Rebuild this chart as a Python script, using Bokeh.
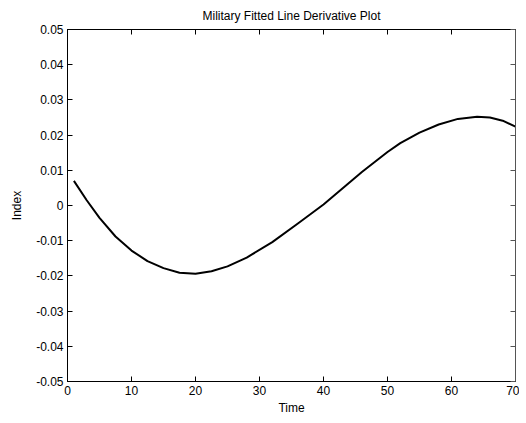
from bokeh.plotting import figure
from bokeh.models import Range1d, LinearAxis, FixedTicker, CustomJSTickFormatter
from bokeh.embed import file_html
from bokeh.resources import INLINE

# Data
time = [1, 3, 5, 7.5, 10, 12.5, 15, 17.5, 20, 22.5, 25, 28, 32, 36, 40, 43, 46,
        50, 52, 55, 58, 61, 64, 66, 68, 70]
index = [0.0070, 0.0015, -0.0035, -0.0088, -0.0128, -0.0158, -0.0178, -0.0191,
         -0.0194, -0.0187, -0.0173, -0.0148, -0.0104, -0.0051, 0.0003, 0.0049,
         0.0095, 0.0152, 0.0177, 0.0207, 0.0230, 0.0246, 0.0252, 0.0250, 0.0241,
         0.0224]

x_ticks = [0, 10, 20, 30, 40, 50, 60, 70]
y_ticks = [-0.05, -0.04, -0.03, -0.02, -0.01, 0, 0.01, 0.02, 0.03, 0.04, 0.05]

FONT = "Liberation Sans"

p = figure(frame_width=448, frame_height=352, output_backend="svg",
           toolbar_location=None,
           x_range=Range1d(0, 70), y_range=Range1d(-0.05, 0.05),
           title="Military Fitted Line Derivative Plot",
           min_border_left=67, min_border_right=4, min_border_top=29,
           min_border_bottom=34)

p.title.align = "center"
p.title.text_font = FONT
p.title.text_font_size = "12px"
p.title.text_font_style = "normal"
p.title.text_color = "#000000"
p.title.standoff = 13

p.xgrid.visible = False
p.ygrid.visible = False
p.outline_line_color = "#000000"
p.outline_line_width = 1
p.background_fill_color = "white"
p.border_fill_color = "white"

fmt = CustomJSTickFormatter(code="return String(Number(tick.toFixed(2)));")
blank = CustomJSTickFormatter(code="return '';")

for ax in p.xaxis + p.yaxis:
    ax.major_label_text_font = FONT
    ax.major_label_text_font_size = "12px"
    ax.major_label_text_color = "#000000"
    ax.axis_label_text_font = FONT
    ax.axis_label_text_font_size = "12px"
    ax.axis_label_text_font_style = "normal"
    ax.axis_label_text_color = "#000000"
    ax.axis_line_color = "#000000"
    ax.major_tick_in = 5
    ax.major_tick_out = 0
    ax.major_tick_line_color = "#000000"
    ax.minor_tick_line_color = None
    ax.major_label_standoff = 4
    ax.axis_label_standoff = 3

p.xaxis.ticker = FixedTicker(ticks=x_ticks)
p.yaxis.ticker = FixedTicker(ticks=y_ticks)
p.yaxis.formatter = fmt
p.yaxis.axis_label_standoff = 9
p.xaxis.axis_label = "Time"
p.yaxis.axis_label = "Index"

top = LinearAxis(ticker=FixedTicker(ticks=x_ticks), formatter=blank,
                 major_tick_in=5, major_tick_out=0, minor_tick_line_color=None,
                 major_label_standoff=0, axis_line_color="#000000",
                 major_tick_line_color="#000000")
right = LinearAxis(ticker=FixedTicker(ticks=y_ticks), formatter=blank,
                   major_tick_in=5, major_tick_out=0, minor_tick_line_color=None,
                   major_label_standoff=0, axis_line_color="#555555",
                   major_tick_line_color="#555555")
p.add_layout(top, "above")
p.add_layout(right, "right")

p.line(time, index, line_color="#000000", line_width=2, line_join="round")

open("out.html", "w").write(file_html(p, INLINE))
